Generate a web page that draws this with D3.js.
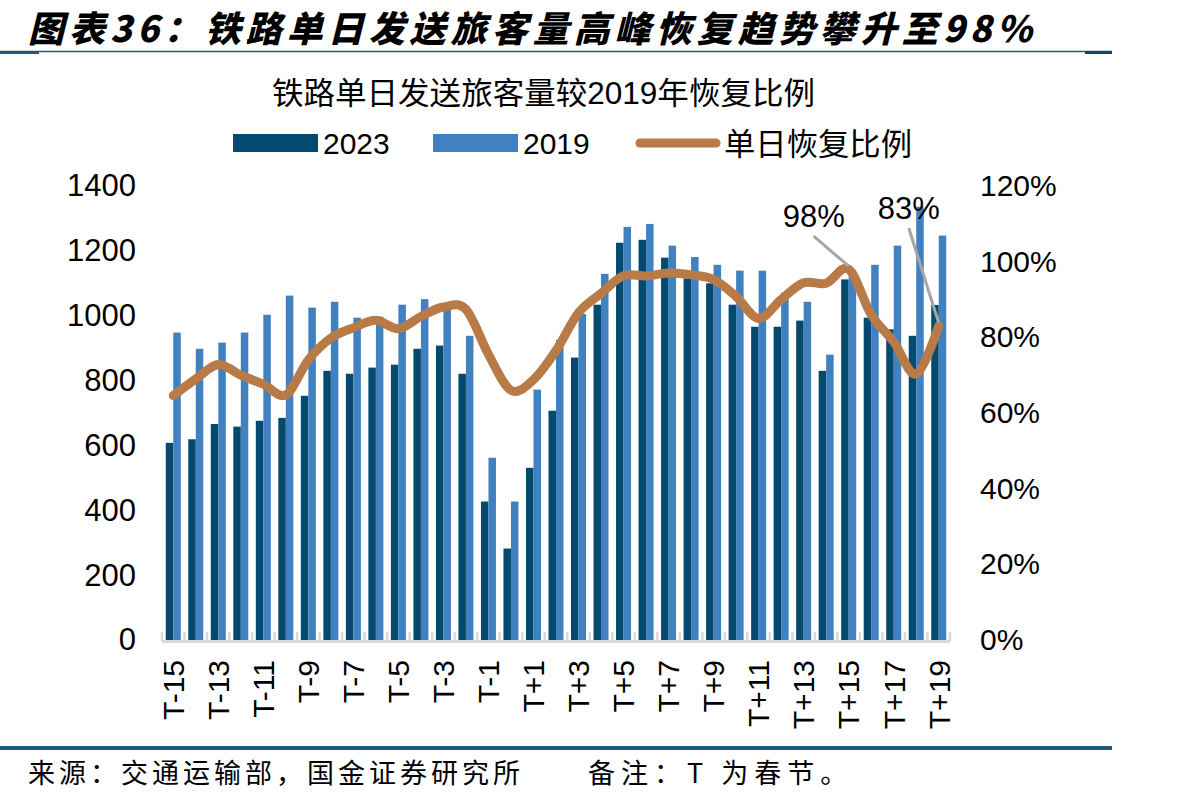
<!DOCTYPE html>
<html>
<head>
<meta charset="utf-8">
<script src="https://cdn.jsdelivr.net/npm/d3@7"></script>
<style>
  body { margin: 0; background: #fff; }
  svg { display: block; }
  text { font-family: "Liberation Sans", Arial, "Noto Sans CJK SC", sans-serif; fill: #000; }
</style>
</head>
<body>
<svg id="svg" width="1204" height="799"></svg>
<script>
const categories = [
  'T-15', 'T-14', 'T-13', 'T-12', 'T-11', 'T-10', 'T-9', 'T-8', 'T-7', 'T-6', 'T-5', 'T-4', 'T-3', 'T-2', 'T-1',
  'T',
  'T+1', 'T+2', 'T+3', 'T+4', 'T+5', 'T+6', 'T+7', 'T+8', 'T+9', 'T+10', 'T+11', 'T+12', 'T+13', 'T+14',
  'T+15', 'T+16', 'T+17', 'T+18', 'T+19'
]
const values2023 = [
  608, 619, 666, 658, 676, 685, 753, 830, 821, 840, 849, 898, 908, 821, 427,
  282,
  531, 707, 871, 1034, 1225, 1234, 1179, 1115, 1100, 1034, 966, 966, 985, 830,
  1112, 994, 958, 938, 1033
]
const values2019 = [
  948, 898, 917, 948, 1003, 1062, 1025, 1043, 994, 997, 1034, 1051, 1030, 938, 562,
  427,
  772, 926, 1005, 1129, 1274, 1283, 1216, 1181, 1157, 1139, 1139, 1071, 1043, 880,
  1140, 1157, 1216, 1336, 1247
]
const ratios = [
  64.6, 69, 72.8, 70, 67.6, 64.8, 74, 79.8, 82.5, 84.5, 82.3, 85.5, 88, 87.4, 75.5,
  66,
  68.8, 76.5, 86.5, 91.6, 96.3, 96.2, 97, 96.5, 95.3, 90.8, 85, 90, 94.4, 94.3,
  98, 86, 78.8, 70.3, 83
]
const leftTicks = [0, 200, 400, 600, 800, 1000, 1200, 1400]
const rightTicks = [0, 20, 40, 60, 80, 100, 120]
const xLabels = categories.filter((d, i) => i % 2 === 0)
const callouts = [
  { cat: 'T+15', text: '98%', dx: -35, dy: -33 },
  { cat: 'T+19', text: '83%', dx: -30, dy: -98 }
]

const dark = '#034a6e'
const light = '#4281c0'
const brown = '#b87a47'

const plotLeft = 162
const plotRight = 950
const plotTop = 186
const plotBottom = 640

const svg = d3.select('#svg')

// header
svg.append('text')
  .attr('x', 28).attr('y', 42)
  .attr('textLength', 1004).attr('lengthAdjust', 'spacing')
  .style('font-family', '"Noto Sans CJK SC", sans-serif')
  .style('font-size', '36px').style('font-weight', 900).style('font-style', 'italic')
  .text('图表36：铁路单日发送旅客量高峰恢复趋势攀升至98%')

svg.append('line').attr('x1', 0).attr('x2', 1112).attr('y1', 51.5).attr('y2', 51.5)
  .attr('stroke', '#1f5a85').attr('stroke-width', 1.5)
svg.append('rect').attr('x', 0).attr('y', 51).attr('width', 39).attr('height', 3).attr('fill', '#1f5a85')
svg.append('rect').attr('x', 1085).attr('y', 51).attr('width', 27).attr('height', 3).attr('fill', '#034a6e')

// footer
svg.append('rect').attr('x', 0).attr('y', 746).attr('width', 1112).attr('height', 4).attr('fill', '#1f5a85')
svg.append('text')
  .attr('x', 28).attr('y', 783)
  .attr('textLength', 492).attr('lengthAdjust', 'spacing')
  .style('font-family', '"Noto Sans CJK SC", sans-serif').style('font-size', '27px')
  .text('来源：交通运输部，国金证券研究所')
svg.append('text')
  .attr('x', 588).attr('y', 783)
  .style('font-family', '"Noto Sans CJK SC", sans-serif').style('font-size', '27px')
  .style('letter-spacing', '6px')
  .text('备注：T 为春节。')

// chart title
svg.append('text')
  .attr('x', 272).attr('y', 104)
  .attr('textLength', 543).attr('lengthAdjust', 'spacingAndGlyphs')
  .style('font-size', '31px')
  .text('铁路单日发送旅客量较2019年恢复比例')

// legend
const legend = svg.append('g')
legend.append('rect').attr('x', 233).attr('y', 134).attr('width', 85).attr('height', 18).attr('fill', dark)
legend.append('text').attr('x', 323).attr('y', 154).style('font-size', '30px').text('2023')
legend.append('rect').attr('x', 433).attr('y', 134).attr('width', 85).attr('height', 18).attr('fill', light)
legend.append('text').attr('x', 523).attr('y', 154).style('font-size', '30px').text('2019')
legend.append('line').attr('x1', 640).attr('x2', 716).attr('y1', 143).attr('y2', 143)
  .attr('stroke', brown).attr('stroke-width', 9).attr('stroke-linecap', 'round')
legend.append('text').attr('x', 724).attr('y', 155)
  .attr('textLength', 188).attr('lengthAdjust', 'spacingAndGlyphs')
  .style('font-size', '31px').text('单日恢复比例')

// scales
const x = d3.scaleBand().domain(categories).range([plotLeft, plotRight])
const inner = d3.scaleBand().domain(['2023', '2019']).range([0, x.bandwidth()]).paddingOuter(0.5).paddingInner(0)
const y = d3.scaleLinear().domain([0, 1400]).range([plotBottom, plotTop])
const y2 = d3.scaleLinear().domain([0, 120]).range([plotBottom, plotTop])

// axes (text only)
const yAxis = svg.append('g')
  .attr('transform', `translate(${plotLeft - 26}, 0)`)
  .call(d3.axisLeft(y).tickValues(leftTicks).tickFormat(d3.format('d')).tickSize(0).tickPadding(0))
yAxis.select('.domain').remove()
yAxis.selectAll('text').style('font-size', '31px').style('font-family', '"Liberation Sans", Arial, sans-serif').attr('fill', '#000')

const yAxis2 = svg.append('g')
  .attr('transform', `translate(${plotRight + 30}, 0)`)
  .call(d3.axisRight(y2).tickValues(rightTicks).tickFormat(d => d + '%').tickSize(0).tickPadding(0))
yAxis2.select('.domain').remove()
yAxis2.selectAll('text').style('font-size', '30px').style('font-family', '"Liberation Sans", Arial, sans-serif').attr('fill', '#000')

// bars
const rows = categories.map((c, i) => ({ c, v23: values2023[i], v19: values2019[i], r: ratios[i] }))
const bars = svg.append('g')
bars.selectAll('.b23').data(rows).join('rect')
  .attr('x', d => x(d.c) + inner('2023'))
  .attr('width', inner.bandwidth())
  .attr('y', d => y(d.v23))
  .attr('height', d => y(0) - y(d.v23))
  .attr('fill', dark)
bars.selectAll('.b19').data(rows).join('rect')
  .attr('x', d => x(d.c) + inner('2019'))
  .attr('width', inner.bandwidth())
  .attr('y', d => y(d.v19))
  .attr('height', d => y(0) - y(d.v19))
  .attr('fill', light)

// x axis line + ticks at category boundaries
const xg = svg.append('g')
xg.selectAll('line.tick').data(categories.concat(['end'])).join('line')
  .attr('x1', (d, i) => i < categories.length ? x(d) : plotRight)
  .attr('x2', (d, i) => i < categories.length ? x(d) : plotRight)
  .attr('y1', plotBottom - 8).attr('y2', plotBottom + 1)
  .attr('stroke', '#d9d9d9').attr('stroke-width', 2.5)
xg.append('line').attr('x1', plotLeft).attr('x2', plotRight).attr('y1', plotBottom + 1.5).attr('y2', plotBottom + 1.5)
  .attr('stroke', '#d9d9d9').attr('stroke-width', 3)

xg.selectAll('text.xl').data(xLabels).join('text')
  .attr('transform', d => `translate(${x(d) + x.bandwidth() / 2}, ${plotBottom + 20}) rotate(-90)`)
  .attr('dy', '0.36em')
  .attr('text-anchor', 'end')
  .style('font-size', '30px')
  .text(d => d)

// ratio line
const line = d3.line()
  .x(d => x(d.c) + x.bandwidth() / 2)
  .y(d => y2(d.r))
  .curve(d3.curveCardinal)
svg.append('path')
  .attr('d', line(rows))
  .attr('fill', 'none')
  .attr('stroke', brown)
  .attr('stroke-width', 9)
  .attr('stroke-linecap', 'round')
  .attr('stroke-linejoin', 'round')

// callouts
callouts.forEach(c => {
  const d = rows.find(r => r.c === c.cat)
  const px = x(d.c) + x.bandwidth() / 2
  const py = y2(d.r)
  svg.append('line')
    .attr('x1', px + c.dx).attr('y1', py + c.dy)
    .attr('x2', px).attr('y2', py - 3)
    .attr('stroke', '#a6a6a6').attr('stroke-width', 3)
  svg.append('text')
    .attr('x', px + c.dx).attr('y', py + c.dy - 9)
    .attr('text-anchor', 'middle')
    .style('font-size', '31px')
    .text(c.text)
})
</script>
</body>
</html>
